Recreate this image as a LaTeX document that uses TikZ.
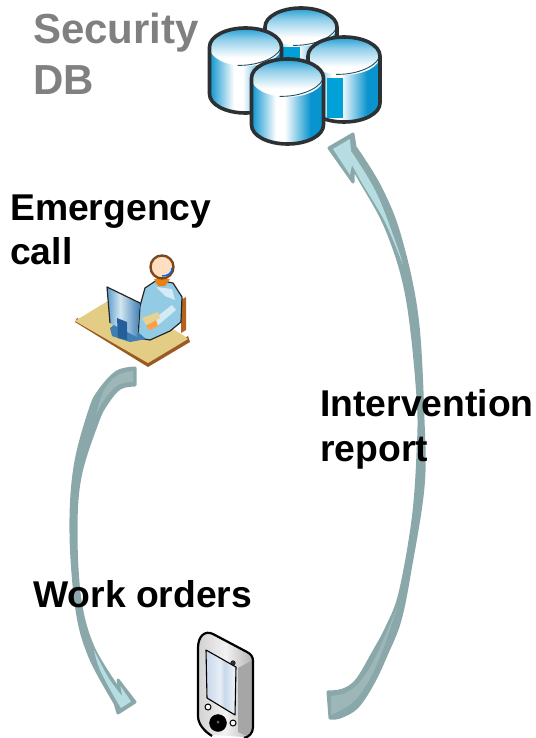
\documentclass[tikz,border=0pt]{standalone}
\usepackage{fontspec}
\setmainfont{Liberation Sans}
\usetikzlibrary{calc}
\definecolor{dbblue}{HTML}{0A94CF}
\definecolor{dbflat}{HTML}{00A0D8}
\definecolor{dbline}{HTML}{2E3133}
\definecolor{arrowedge}{HTML}{8AA7AA}
\definecolor{arrowtail}{HTML}{9DB7B9}
\definecolor{arrowlight}{HTML}{B6DEE2}
\definecolor{labelgray}{HTML}{808080}
\definecolor{desktop}{HTML}{E3CC84}
\definecolor{deskedge}{HTML}{9A5A24}
\definecolor{bodyblue}{HTML}{93CBE4}
\definecolor{monA}{HTML}{5E9CCB}
\definecolor{monB}{HTML}{D3E6F2}
\definecolor{monC}{HTML}{3F7FB5}
\definecolor{monbase}{HTML}{23609B}
\definecolor{scrA}{HTML}{C9D7EA}
\definecolor{scrB}{HTML}{E6EEF6}
\pgfdeclarehorizontalshading{dbbody}{100bp}{color(0bp)=(dbblue);color(25bp)=(dbblue);color(42bp)=(white);color(48bp)=(white);color(66bp)=(dbblue);color(100bp)=(dbblue)}
\pgfdeclareverticalshading{dbtop}{100bp}{color(0bp)=(white);color(36bp)=(white);color(60bp)=(dbblue!45);color(75bp)=(dbblue!90);color(100bp)=(dbblue)}
\pgfdeclarehorizontalshading{screenshade}{100bp}{color(0bp)=(scrA);color(25bp)=(scrA);color(48bp)=(scrB);color(56bp)=(scrA);color(70bp)=(scrB);color(100bp)=(scrB)}
\pgfdeclarehorizontalshading{phonebody}{100bp}{color(0bp)=(white!80!black);color(25bp)=(white!82!black);color(50bp)=(white!95!black);color(75bp)=(white!70!black);color(100bp)=(white!70!black)}
\pgfdeclarehorizontalshading{monshade}{100bp}{color(0bp)=(monA);color(25bp)=(monA);color(45bp)=(monB);color(75bp)=(monC);color(100bp)=(monC)}
\tikzset{
  lbl/.style={anchor=base west,inner sep=0pt,font=\fontsize{37.3}{37.3}\selectfont\bfseries,text=black},
  lblgray/.style={lbl,font=\fontsize{42}{42}\selectfont\bfseries,text=labelgray},
  blockarrow/.style={fill=arrowedge,draw=arrowedge,line width=3pt,line join=round},
  dboutline/.style={draw=dbline,line width=3.6pt,line join=round},
  iconline/.style={draw=black!85,line width=1.2pt,line join=round}
}
\newcommand\dbbodypath{(-36,0) -- (-36,47) .. controls (-36,57.5) and (-20,66) .. (0,66) .. controls (20,66) and (36,57.5) .. (36,47) -- (36,0) .. controls (36,-10.5) and (20,-19) .. (0,-19) .. controls (-20,-19) and (-36,-10.5) .. (-36,0) -- cycle}
\newcommand\dbcapA{(-36,0) .. controls (-36,-10.5) and (-20,-19) .. (0,-19) .. controls (20,-19) and (36,-10.5) .. (36,0) .. controls (36,10.5) and (20,19) .. (0,19) .. controls (-20,19) and (-36,10.5) .. (-36,0) -- cycle}
\newcommand\dbcyl[2]{%
  \begin{scope}[shift={(#1,#2)}]
    \shade[shading=dbbody] \dbbodypath;
    \shade[shading=dbtop] \dbcapA;
    \draw[draw=dbline!70!dbblue,line width=.9pt] (-8,18.3) .. controls (10,19) and (30,12) .. (35,2);
    \draw[dboutline] \dbbodypath;
  \end{scope}}
\begin{document}
\begin{tikzpicture}[x=1pt,y=-1pt]
\useasboundingbox (0,0) rectangle (535,738);
% database
\dbcyl{301}{27}
\fill[dbflat] (282,47) rectangle (300,60);
\dbcyl{245.5}{47}
\dbcyl{344}{56}
\fill[dbflat] (327,78) rectangle (343,118);
\dbcyl{287.5}{78}
% right arrow
\path[blockarrow] (329,148) -- (353,134) -- (355,147)
  -- plot[smooth,tension=.6] coordinates {(355,147) (380,187) (400,237) (417,317) (423,420) (423,487) (410,570) (400,620) (387,653) (373,683) (357,707) (340,717) (330,718)}
  -- plot[smooth,tension=.6] coordinates {(328,692) (343,690) (357,680) (373,653) (387,627) (400,593) (413,520) (418,453) (418,397) (407,297) (387,230) (360,180) (353,168)}
  -- (353,182) -- cycle;
\fill[arrowlight] (333,149) -- (350,139) -- (351,151) -- plot[smooth,tension=.6] coordinates {(351,151) (376,192) (396,243) (403,265)}
  -- plot[smooth,tension=.6] coordinates {(403,265) (385,222) (362,183) (352,165)} -- (350,175) -- cycle;
\fill[arrowtail] (331,696) -- (343,694) -- plot[smooth,tension=.6] coordinates {(343,694) (359,683) (376,656) (398,605)}
  -- plot[smooth,tension=.6] coordinates {(398,605) (382,652) (368,682) (352,703) (331,715)} -- cycle;
% left arrow
\path[blockarrow] (135,368) -- plot[smooth,tension=.6] coordinates {(135,368) (117,372) (100,390) (90,410) (75,467) (71,533) (77,610) (90,657) (115,703)}
  -- (118,713) -- (135,702) -- (118,680) -- (121,692)
  -- plot[smooth,tension=.6] coordinates {(118,688) (93,647) (80,600) (76,533) (80,477) (97,423) (107,403) (120,388) (135,385)} -- cycle;
\fill[arrowlight] (121,708) -- (131,701.5) -- (120.5,686) -- (122,696) -- plot[smooth,tension=.6] coordinates {(122,696) (108,677) (94,650)}
  -- plot[smooth,tension=.6] coordinates {(94,650) (100,670) (116,700)} -- cycle;
\fill[arrowtail] (133,371) -- (133,382) -- plot[smooth,tension=.6] coordinates {(133,382) (118,385) (104,400) (96,415)}
  -- plot[smooth,tension=.6] coordinates {(96,415) (104,390) (118,375) (133,371)} -- cycle;
% operator
\fill[deskedge] (75,322) -- (148,367) -- (190,342) -- (188,336) -- (148,360) -- (77,318) -- cycle;
\fill[desktop] (75,321) -- (116,296) -- (183,335) -- (188,339) -- (148,363) -- cycle;
\fill[deskedge!75!orange] (181,300) -- (186,297) -- (186,330) -- (181,333) -- cycle;
\fill[bodyblue,iconline] (140,306) -- (145,288) -- (157,280) -- (173,283) -- (182,297) -- (181,322) -- (170,331) -- (150,340) -- (138,338) -- cycle;
\fill[white!60!bodyblue] (156,287) -- (172,289) -- (175,300) -- (165,296) -- cycle;
\fill[white!60!bodyblue] (172,305) -- (176,310) -- (157,326) -- (150,322) -- cycle;
\fill[desktop!90!white] (142,318) -- (158,312) -- (160,318) -- (146,325) -- cycle;
\fill[orange!75!white] (146,326) -- (156,320) -- (158,326) -- (150,330) -- cycle;
\fill[monC] (110,328) -- (120,320) -- (138,332) -- (146,339) -- (130,342) -- (112,336) -- cycle;
\shade[shading=monshade] (107,287) -- (140,303) -- (137,337) -- (110,323) -- cycle;
\draw[iconline] (110,323) -- (107,287) -- (140,303);
\fill[monbase] (117,318) -- (127,322) -- (127,340) -- (118,338) -- cycle;
\fill[orange!70!brown] (154,279) -- (170,279) -- (165,286) -- (158,286) -- cycle;
\filldraw[fill=orange!25!white,draw=deskedge!80!black,line width=2.4pt] (162,267) circle[radius=11.5];
\draw[blue!60!cyan,line width=1.4pt] (172,268) .. controls (172,273) and (168,276) .. (162,276);
% handheld
\shade[shading=phonebody] (198,648) .. controls (198,636) and (205,630) .. (213,634) -- (247,652) .. controls (251,654) and (253,657) .. (253,661) -- (253,727) .. controls (253,733) and (249,737) .. (244,737) -- (212,735) .. controls (204,731) and (198,724) .. (198,716) -- cycle;
\fill[white!65!black] (238,668) -- (253,660) -- (253,727) -- (247,736) -- (238,732) -- cycle;
\draw[draw=black,line width=2.2pt,line join=round] (198,648) .. controls (198,636) and (205,630) .. (213,634) -- (247,652) .. controls (251,654) and (253,657) .. (253,661) -- (253,727) .. controls (253,733) and (249,737) .. (244,738);
\draw[draw=black,line width=2.2pt] (198,648) -- (198,716) .. controls (198,724) and (204,731) .. (212,736);
\shade[shading=screenshade] (206,650) -- (236,667) -- (235,715) -- (207,698) -- cycle;
\draw[black,line width=1.1pt,line join=round] (206,650) -- (236,667) -- (235,715) -- (207,698) -- cycle;
\filldraw[fill=black!80,draw=black] (233,663) circle[radius=2.3];
\filldraw[fill=white,draw=black,line width=1pt] (208,707) circle[radius=3];
\filldraw[fill=white,draw=black,line width=1pt] (233,723) circle[radius=3];
\filldraw[fill=black,draw=black] (218,723) circle[radius=8.5];
\fill[black!60] (218,722) circle[radius=1.5];
% labels
\node[lblgray] (secA) at (33,44) {Security};
\node[lblgray] (secB) at (33,95) {DB};
\node[lbl] (emA) at (10,220) {Emergency};
\node[lbl] (emB) at (10,264) {call};
\node[lbl] (intA) at (320,416) {Intervention};
\node[lbl] (intB) at (320,461) {report};
\node[lbl] (work) at (33,607) {Work orders};
\end{tikzpicture}
\end{document}
